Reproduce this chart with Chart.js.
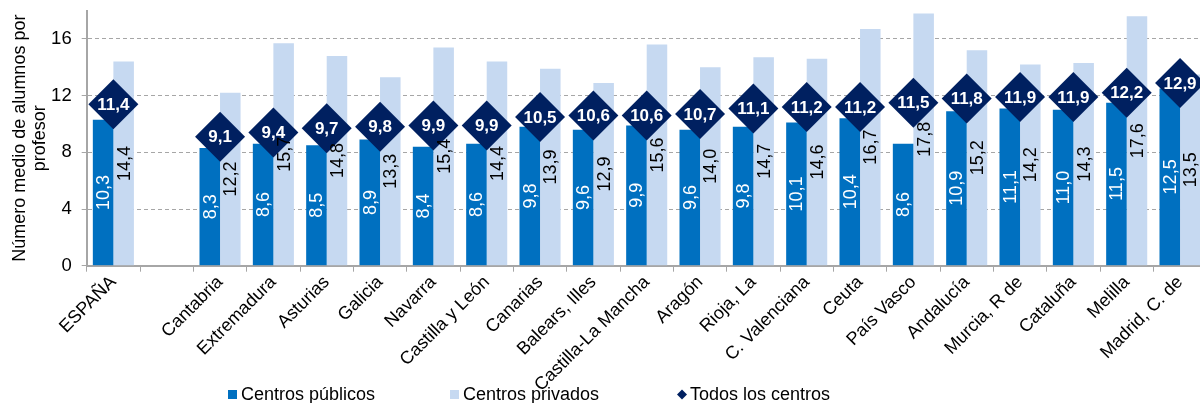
<!DOCTYPE html>
<html>
<head>
<meta charset="utf-8">
<script src="https://cdn.jsdelivr.net/npm/chart.js@4.4.1/dist/chart.umd.min.js"></script>
<style>
  html, body { margin: 0; padding: 0; background: #fff; overflow: hidden; }
  #wrap { position: relative; width: 1210px; height: 403px; }
</style>
</head>
<body>
<div id="wrap"><canvas id="chart"></canvas></div>
<script>
const regions = ["ESPAÑA", "", "Cantabria", "Extremadura", "Asturias", "Galicia", "Navarra",
  "Castilla y León", "Canarias", "Balears, Illes", "Castilla-La Mancha", "Aragón", "Rioja, La",
  "C. Valenciana", "Ceuta", "País Vasco", "Andalucía", "Murcia, R de", "Cataluña", "Melilla",
  "Madrid, C. de"]
const publicos = [10.3, null, 8.3, 8.6, 8.5, 8.9, 8.4, 8.6, 9.8, 9.6, 9.9, 9.6, 9.8, 10.1, 10.4,
  8.6, 10.9, 11.1, 11.0, 11.5, 12.5]
const privados = [14.4, null, 12.2, 15.7, 14.8, 13.3, 15.4, 14.4, 13.9, 12.9, 15.6, 14.0, 14.7,
  14.6, 16.7, 17.8, 15.2, 14.2, 14.3, 17.6, 13.5]
const todos = [11.4, null, 9.1, 9.4, 9.7, 9.8, 9.9, 9.9, 10.5, 10.6, 10.6, 10.7, 11.1, 11.2,
  11.2, 11.5, 11.8, 11.9, 11.9, 12.2, 12.9]
const yTicks = [0, 4, 8, 12, 16]

const darkBlue = "#0070C0"
const lightBlue = "#C6D9F1"
const navy = "#002060"
const gray = "#A6A6A6"
const family = "'Liberation Sans', Arial, sans-serif"

const fmt = (v) => v.toFixed(1).replace(".", ",")

// value labels + legend, drawn on top of everything
const labelPlugin = {
  id: "labels",
  afterDatasetsDraw(chart) {
    const ctx = chart.ctx
    ctx.save()
    ctx.font = "18px " + family
    ctx.textAlign = "center"
    ctx.textBaseline = "middle"
    ;[1, 2].forEach((di) => {
      const meta = chart.getDatasetMeta(di)
      const values = chart.data.datasets[di].data
      ctx.fillStyle = di === 1 ? "#fff" : "#000"
      meta.data.forEach((bar, i) => {
        if (values[i] == null) return
        const cy = (bar.y + bar.base) / 2
        ctx.save()
        ctx.translate(bar.x, cy)
        ctx.rotate(-Math.PI / 2)
        ctx.fillText(fmt(values[i]), 0, 1)
        ctx.restore()
      })
    })
    const pts = chart.getDatasetMeta(0)
    ctx.font = "bold 17px " + family
    ctx.fillStyle = "#fff"
    pts.data.forEach((p, i) => {
      if (todos[i] == null) return
      ctx.fillText(fmt(todos[i]), p.x, p.y + 1)
    })
    ctx.restore()
  },
  afterDraw(chart) {
    const ctx = chart.ctx
    const items = [
      { text: "Centros públicos", color: darkBlue, x: 228, shape: "square" },
      { text: "Centros privados", color: lightBlue, x: 450, shape: "square" },
      { text: "Todos los centros", color: navy, x: 677, shape: "diamond" }
    ]
    ctx.save()
    ctx.font = "18px " + family
    ctx.textBaseline = "alphabetic"
    ctx.textAlign = "left"
    items.forEach((it) => {
      ctx.fillStyle = it.color
      if (it.shape === "square") {
        ctx.fillRect(it.x, 390, 9, 9)
      } else {
        ctx.beginPath()
        ctx.moveTo(it.x + 5, 389.5)
        ctx.lineTo(it.x + 10, 394.5)
        ctx.lineTo(it.x + 5, 399.5)
        ctx.lineTo(it.x, 394.5)
        ctx.closePath()
        ctx.fill()
      }
      ctx.fillStyle = "#000"
      ctx.fillText(it.text, it.x + 13, 400)
    })
    ctx.restore()
  }
}

function chartConfig() {
  const chart = document.querySelector("#chart")
  const data = {
    labels: regions,
    datasets: [
      {
        type: "line",
        label: "Todos los centros",
        data: todos,
        showLine: false,
        pointStyle: "rectRot",
        pointRadius: 25,
        pointHoverRadius: 25,
        pointBackgroundColor: navy,
        pointBorderWidth: 0,
        order: 0
      },
      {
        type: "bar",
        label: "Centros públicos",
        data: publicos,
        backgroundColor: darkBlue,
        categoryPercentage: 0.77,
        barPercentage: 1.0,
        order: 1
      },
      {
        type: "bar",
        label: "Centros privados",
        data: privados,
        backgroundColor: lightBlue,
        categoryPercentage: 0.77,
        barPercentage: 1.0,
        order: 1
      }
    ]
  }
  const config = {
    type: "bar",
    data: data,
    options: {
      responsive: true,
      maintainAspectRatio: false,
      animation: false,
      layout: {
        autoPadding: false,
        padding: { top: 10.6, right: 3.3, left: 0, bottom: 0 }
      },
      plugins: {
        legend: { display: false },
        tooltip: { enabled: false }
      },
      scales: {
        x: {
          grid: {
            display: true,
            drawOnChartArea: false,
            offset: true,
            color: gray,
            tickLength: 6
          },
          border: { color: gray, width: 2 },
          ticks: {
            font: { family: family, size: 18 },
            color: "#000",
            minRotation: 45,
            maxRotation: 45,
            autoSkip: false,
            padding: 0
          },
          afterFit: (s) => { s.height = 137.3 }
        },
        y: {
          min: 0,
          max: 18,
          ticks: {
            stepSize: 4,
            font: { family: family, size: 18.5 },
            color: "#000",
            padding: 10
          },
          grid: {
            color: gray,
            tickColor: gray,
            tickLength: 5,
            tickBorderDash: []
          },
          border: { color: gray, width: 2, dash: [4, 3] },
          title: {
            display: true,
            text: ["Número medio de alumnos por", "profesor"],
            font: { family: family, size: 18, lineHeight: 1.1 },
            color: "#000",
            padding: { top: 10, bottom: 0 }
          },
          afterBuildTicks: (s) => {
            s.ticks = yTicks.map((v) => ({ value: v }))
          },
          afterFit: (s) => {
            s.width = 86.7
            s.paddingTop = 0
            s.paddingBottom = 0
          }
        }
      }
    },
    plugins: [labelPlugin]
  }
  new Chart(chart, config)
}

document.addEventListener("DOMContentLoaded", () => {
  chartConfig()
})
</script>
</body>
</html>
